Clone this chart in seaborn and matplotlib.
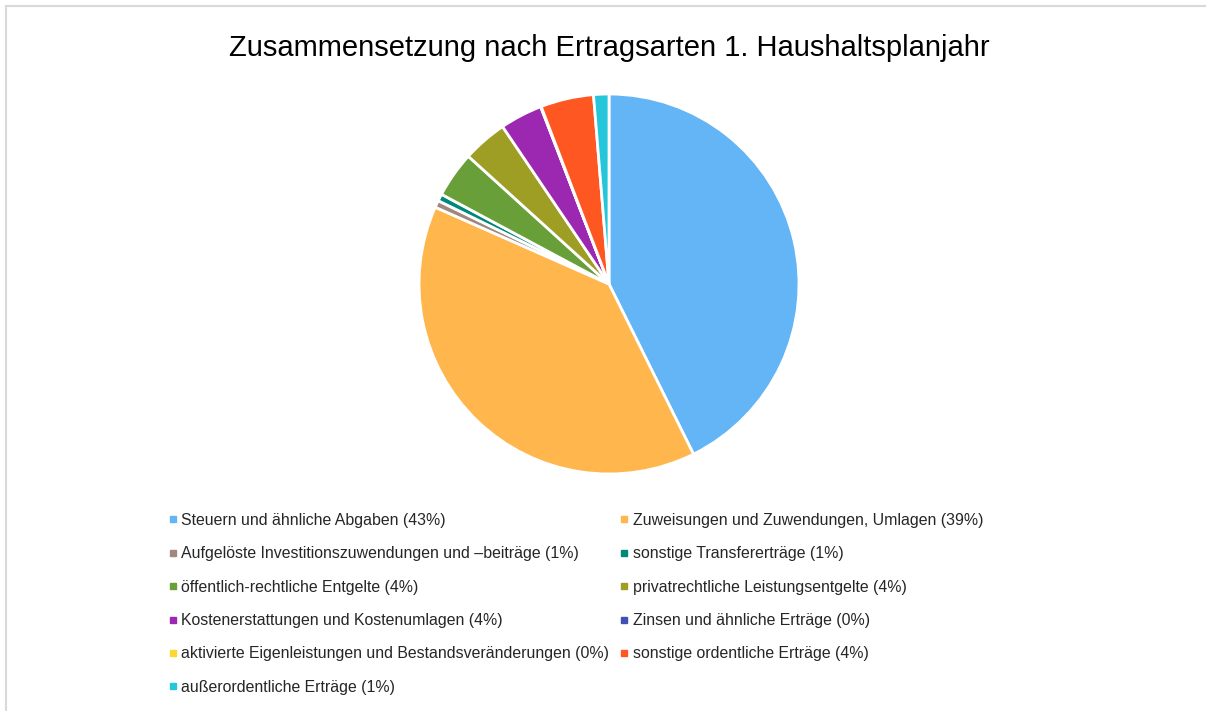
import matplotlib
matplotlib.use("Agg")
import matplotlib.pyplot as plt
import seaborn as sns
from matplotlib.lines import Line2D
from matplotlib.patches import Rectangle

# Ertragsarten und Anteile (in %)
categories = [
    "Steuern und ähnliche Abgaben",
    "Zuweisungen und Zuwendungen, Umlagen",
    "Aufgelöste Investitionszuwendungen und \u2013beiträge",
    "sonstige Transfererträge",
    "öffentlich-rechtliche Entgelte",
    "privatrechtliche Leistungsentgelte",
    "Kostenerstattungen und Kostenumlagen",
    "Zinsen und ähnliche Erträge",
    "aktivierte Eigenleistungen und Bestandsveränderungen",
    "sonstige ordentliche Erträge",
    "außerordentliche Erträge",
]
values = [42.6, 38.9, 0.6, 0.6, 3.9, 3.8, 3.6, 0.05, 0.0, 4.5, 1.3]
labels_pct = ["43%", "39%", "1%", "1%", "4%", "4%", "4%", "0%", "0%", "4%", "1%"]
colors = ["#64B5F6", "#FFB74D", "#A1887F", "#00897B", "#689F38", "#9E9D24",
          "#9C27B0", "#3F51B5", "#FDD835", "#FF5722", "#26C6DA"]

sns.set_theme(style="white")
plt.rcParams['font.family'] = ['Liberation Sans', 'DejaVu Sans']
palette = sns.color_palette(colors)

fig = plt.figure(figsize=(12.06, 7.11), dpi=100)

# grauer Rahmen
fig.patches.append(Rectangle((6 / 1206, -0.01), 1.02, (711 - 6) / 711 + 0.01,
                             transform=fig.transFigure, fill=False,
                             edgecolor="#D9D9D9", linewidth=1.5))

# Kreisdiagramm: Mittelpunkt (609, 284) px, Radius 190 px
ax = fig.add_axes([(609 - 190) / 1206, (711 - 474) / 711, 380 / 1206, 380 / 711])
ax.pie(values, colors=palette, startangle=90, counterclock=False,
       wedgeprops=dict(edgecolor="white", linewidth=2))
ax.set_xlim(-1, 1)
ax.set_ylim(-1, 1)
ax.set_aspect("equal")

fig.text(609 / 1206, 1 - 56 / 711, "Zusammensetzung nach Ertragsarten 1. Haushaltsplanjahr",
         ha="center", va="baseline", fontsize=21, color="#000000")

# Legende: zeilenweise in zwei Spalten
handles = [Line2D([], [], marker="s", linestyle="none", markersize=5,
                  markerfacecolor=c, markeredgecolor=c) for c in palette]
texts = [f"{c} ({p})" for c, p in zip(categories, labels_pct)]
order = [0, 2, 4, 6, 8, 10, 1, 3, 5, 7, 9]
fig.legend([handles[i] for i in order], [texts[i] for i in order],
           ncol=2, loc="upper left", bbox_to_anchor=(169 / 1206, 1 - 513 / 711),
           frameon=False, fontsize=11.4, handlelength=0.45, handletextpad=0.3,
           columnspacing=0.75, labelspacing=1.16, borderaxespad=0, borderpad=0)

fig.savefig("out.png", dpi=100, facecolor="white")
